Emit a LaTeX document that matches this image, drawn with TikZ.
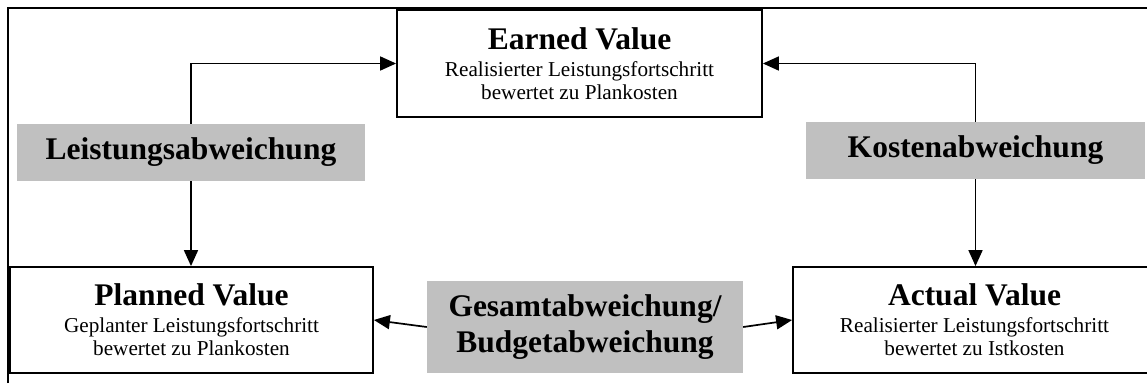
\documentclass[tikz,border=0pt]{standalone}
\usepackage{fontspec}
\setmainfont{Liberation Serif}
\usetikzlibrary{arrows.meta}

\newcommand{\headf}{\fontsize{31.5}{36}\selectfont\bfseries}
\newcommand{\textf}{\fontsize{21.2}{23}\selectfont}

\tikzset{
  valuebox/.style={draw, line width=1.8pt, fill=white, inner sep=0pt,
    align=center, font=\textf, minimum width=363pt, minimum height=106pt},
  devbox/.style={fill=devgray, inner sep=0pt, align=center, font=\headf,
    minimum height=57pt},
  conn/.style={line width=1.7pt, -{Triangle[length=16pt,width=14pt]}},
}
\definecolor{devgray}{RGB}{192,192,192}

\begin{document}
\begin{tikzpicture}
        [x=1pt,y=-1pt]
        \useasboundingbox (0,0) rectangle (1147,383);

        % open frame
        \draw[line width=1.6pt] (8,383) -- (8,8) -- (1147,8);

        % value boxes
        \node[valuebox,minimum width=365pt,minimum height=107pt] (ev) at (579.5,63.5)
          {{\headf Earned Value}\\[4pt]Realisierter Leistungsfortschritt\\bewertet zu Plankosten};
        \node[valuebox] (pv) at (191.5,320)
          {{\headf Planned Value}\\[4pt]Geplanter Leistungsfortschritt\\bewertet zu Plankosten};
        \node[valuebox] (av) at (974.5,320)
          {{\headf Actual Value}\\[4pt]Realisierter Leistungsfortschritt\\bewertet zu Istkosten};

        % deviations
        \node[devbox,minimum width=348pt] (leist) at (191,152.5) {Leistungsabweichung};
        \node[devbox,minimum width=339pt] (kost) at (975.5,150.5) {Kostenabweichung};
        \node[devbox,minimum width=316pt,minimum height=92pt] (ges) at (585,327)
          {Gesamtabweichung/\\Budgetabweichung};

        \draw[conn] (leist.north) |- (ev.west);
        \draw[conn] (leist.south) -- (leist.south |- pv.north);
        \draw[conn] (kost.north) |- (ev.east);
        \draw[conn] (kost.south) -- (kost.south |- av.north);
        \draw[conn] (ges.west) -- (pv.east);
        \draw[conn] (ges.east) -- (av.west);
      \end{tikzpicture}
\end{document}
